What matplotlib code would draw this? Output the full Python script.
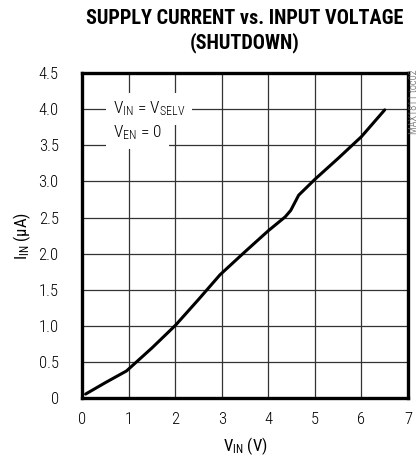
import matplotlib
matplotlib.use("Agg")
import matplotlib.pyplot as plt
from matplotlib import font_manager

# curve
vin = [0.07, 0.5, 0.95, 1.5, 2.0, 2.5, 2.96, 3.5, 4.0, 4.36, 4.48, 4.65, 5.0, 5.5, 6.0, 6.5]
iin = [0.06, 0.22, 0.38, 0.70, 1.01, 1.37, 1.71, 2.03, 2.32, 2.51, 2.60, 2.81, 3.03, 3.32, 3.62, 3.99]

xticks = [0, 1, 2, 3, 4, 5, 6, 7]
yticks = [0, 0.5, 1.0, 1.5, 2.0, 2.5, 3.0, 3.5, 4.0, 4.5]
ylabels = ["0", "0.5", "1.0", "1.5", "2.0", "2.5", "3.0", "3.5", "4.0", "4.5"]

names = set(f.name for f in font_manager.fontManager.ttflist)
fam = "Liberation Sans"
for cand in ["Roboto Condensed", "Archivo Narrow", "PT Sans Narrow"]:
    if cand in names:
        fam = cand
        break
plt.rcParams["font.family"] = [fam, "DejaVu Sans"]
plt.rcParams["font.weight"] = "light"
plt.rcParams["mathtext.fontset"] = "custom"
plt.rcParams["mathtext.rm"] = fam + ":light"
plt.rcParams["mathtext.it"] = fam + ":light"

fig = plt.figure(figsize=(4.18, 4.59), dpi=100)
ax = fig.add_axes([0.197, 0.132, 0.779, 0.709])

ax.plot(vin, iin, color="black", lw=2.2, solid_capstyle="round")

ax.set_xlim(0, 7)
ax.set_ylim(0, 4.5)
ax.set_xticks(xticks)
ax.set_yticks(yticks)
ax.set_yticklabels(ylabels)
ax.grid(True, color="#333333", lw=0.9)
ax.set_axisbelow(True)
ax.tick_params(length=0, labelsize=12, colors="black")
ax.tick_params(axis="y", pad=17)
ax.tick_params(axis="x", pad=10)
for s in ax.spines.values():
    s.set_linewidth(2.4)

ax.set_xlabel(r"V$_\mathregular{IN}$ (V)", fontsize=12, labelpad=6)
ax.set_ylabel(r"I$_\mathregular{IN}$ ($\mathregular{\mu}$A)", fontsize=12, labelpad=4)

ax.text(0.65, 4.0, "V$_\\mathregular{IN}$ = V$_\\mathregular{SELV}$",
        fontsize=12.5, va="center", ha="left",
        bbox=dict(facecolor="white", edgecolor="none", pad=5))
ax.text(0.65, 3.68, "V$_\\mathregular{EN}$ = 0",
        fontsize=12.5, va="center", ha="left",
        bbox=dict(facecolor="white", edgecolor="none", pad=5))

fig.text(0.585, 0.96, "SUPPLY CURRENT vs. INPUT VOLTAGE", ha="center", va="center",
         fontsize=14.6, fontweight="black")
fig.text(0.585, 0.908, "(SHUTDOWN)", ha="center", va="center",
         fontsize=14.6, fontweight="black")
fig.text(0.99, 0.848, "MAX1811 toc02", rotation=90, ha="center", va="top",
         fontsize=7.5, color="#555555")

fig.savefig("out.png", dpi=100)
